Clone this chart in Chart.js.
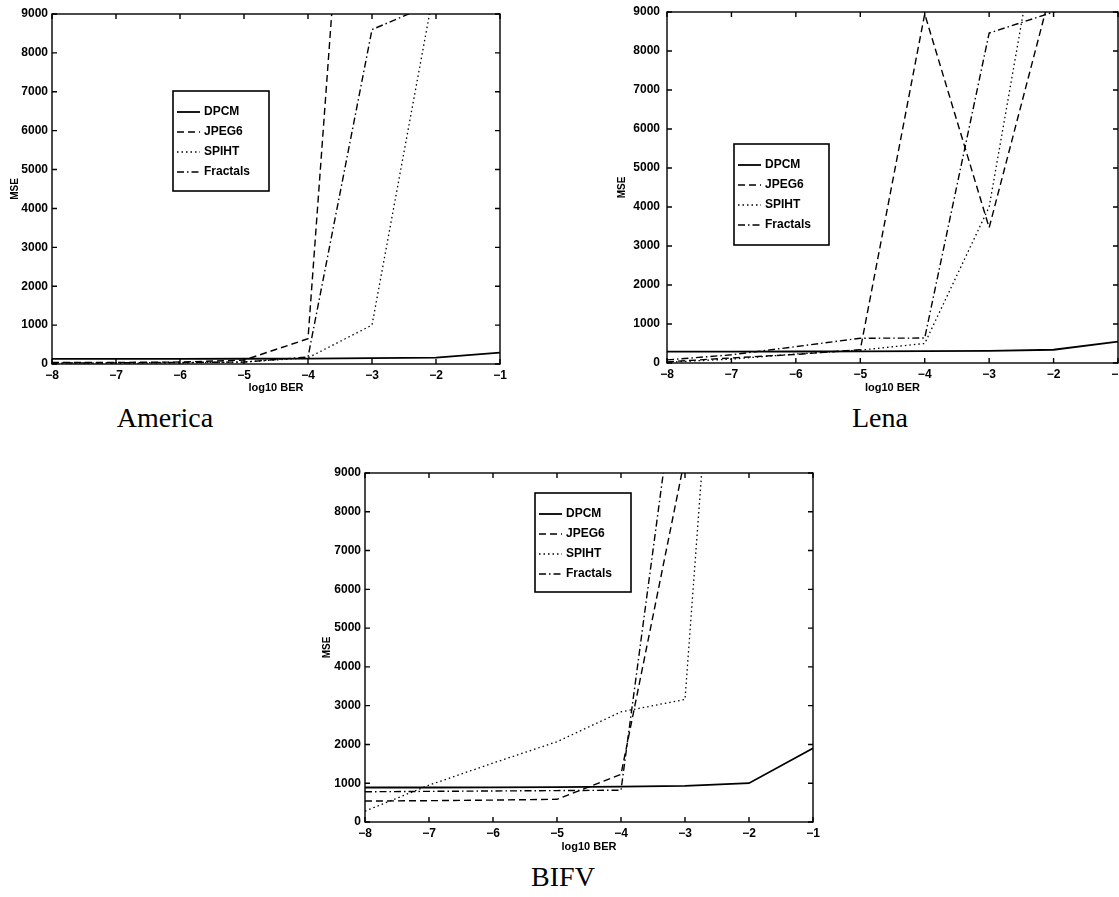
<!DOCTYPE html>
<html lang="en">
<head>
    <meta charset="UTF-8">
    <title>MSE vs log10 BER</title>
    <script src="https://cdn.jsdelivr.net/npm/chart.js"></script>
    <style>
        body {
            margin: 0;
            background: #fff;
            width: 1119px;
            height: 897px;
            position: relative;
            overflow: hidden;
        }
        canvas {
            position: absolute;
        }
        .caption {
            position: absolute;
            font-family: "Liberation Serif", "DejaVu Serif", serif;
            font-size: 28px;
            line-height: 28px;
            color: #000;
            transform: translateX(-50%);
            white-space: nowrap;
        }
    </style>
</head>
<body>
    <canvas id="america" width="515" height="395" style="left:0px;top:0px"></canvas>
    <canvas id="lena" width="504" height="395" style="left:615px;top:0px"></canvas>
    <canvas id="bifv" width="515" height="395" style="left:313px;top:459px"></canvas>

    <div class="caption" style="left:165px;top:404px">America</div>
    <div class="caption" style="left:880px;top:404px">Lena</div>
    <div class="caption" style="left:563px;top:863px">BIFV</div>

    <script>
        // x values: log10 of the bit error rate
        const ber = [-8, -7, -6, -5, -4, -3, -2, -1];
        const seriesNames = ["DPCM", "JPEG6", "SPIHT", "Fractals"];
        const yMax = 9000;

        // America (values above 9000 run off the top of the plot)
        const americaDPCM     = [130, 130, 130, 135, 140, 150, 165, 290];
        const americaJPEG6    = [40, 40, 50, 100, 650, 23200, 30000, 30000];
        const americaSPIHT    = [20, 20, 30, 50, 160, 1000, 9900, 20000];
        const americaFractals = [30, 30, 40, 50, 180, 8600, 9300, 10000];

        // Lena
        const lenaDPCM     = [290, 290, 295, 300, 305, 310, 340, 550];
        const lenaJPEG6    = [30, 130, 220, 340, 8950, 3470, 9800, 15000];
        const lenaSPIHT    = [20, 100, 230, 330, 500, 4000, 13400, 20000];
        const lenaFractals = [80, 210, 420, 635, 640, 8460, 9000, 9500];

        // BIFV
        const bifvDPCM     = [890, 890, 895, 900, 910, 930, 1000, 1900];
        const bifvJPEG6    = [540, 550, 565, 585, 1230, 9400, 20000, 20000];
        const bifvSPIHT    = [280, 950, 1520, 2070, 2840, 3160, 25600, 30000];
        const bifvFractals = [780, 790, 800, 810, 820, 13200, 20000, 20000];

        const lineStyles = [
            { borderWidth: 1.8, borderDash: [] },
            { borderWidth: 1.4, borderDash: [7, 4] },
            { borderWidth: 1.3, borderDash: [1.5, 3] },
            { borderWidth: 1.4, borderDash: [7, 3, 1.5, 3] }
        ];

        const sansFont = "'Liberation Sans', Arial, sans-serif";

        // frame, inward ticks and the boxed legend (MATLAB look)
        const framePlugin = {
            id: "frame",
            afterDatasetsDraw(chart, args, opts) {
                const { ctx, chartArea: a, scales } = chart;
                const x = scales.x, y = scales.y;
                ctx.save();
                ctx.strokeStyle = "#000";
                ctx.lineWidth = 1.4;
                ctx.setLineDash([]);
                ctx.strokeRect(a.left, a.top, a.width, a.height);
                ctx.beginPath();
                x.ticks.forEach(t => {
                    const px = x.getPixelForValue(t.value);
                    ctx.moveTo(px, a.bottom); ctx.lineTo(px, a.bottom - 5);
                    ctx.moveTo(px, a.top); ctx.lineTo(px, a.top + 5);
                });
                y.ticks.forEach(t => {
                    const py = y.getPixelForValue(t.value);
                    ctx.moveTo(a.left, py); ctx.lineTo(a.left + 5, py);
                    ctx.moveTo(a.right, py); ctx.lineTo(a.right - 5, py);
                });
                ctx.stroke();

                // legend
                const lg = opts.legend;
                ctx.fillStyle = "#fff";
                ctx.fillRect(lg.left, lg.top, lg.width, lg.height);
                ctx.lineWidth = 1.6;
                ctx.strokeRect(lg.left, lg.top, lg.width, lg.height);
                ctx.font = "bold 12px " + sansFont;
                ctx.textBaseline = "middle";
                ctx.textAlign = "left";
                chart.data.datasets.forEach((ds, i) => {
                    const ly = lg.top + 21 + i * 20;
                    ctx.beginPath();
                    ctx.lineWidth = ds.borderWidth;
                    ctx.setLineDash(ds.borderDash);
                    ctx.moveTo(lg.left + 4, ly);
                    ctx.lineTo(lg.left + 27, ly);
                    ctx.stroke();
                    ctx.setLineDash([]);
                    ctx.fillStyle = "#000";
                    ctx.fillText(ds.label, lg.left + 31, ly);
                });
                ctx.restore();
            }
        };

        function makeChart(id, values, pad, yTitlePad, yTickPad, legendBox) {
            const datasets = values.map((vals, i) => ({
                label: seriesNames[i],
                data: ber.map((b, j) => ({ x: b, y: vals[j] })),
                borderColor: "#000",
                backgroundColor: "#000",
                borderWidth: lineStyles[i].borderWidth,
                borderDash: lineStyles[i].borderDash,
                pointRadius: 0,
                tension: 0,
                fill: false
            }));

            return new Chart(document.getElementById(id), {
                type: "line",
                data: { datasets: datasets },
                options: {
                    responsive: false,
                    animation: false,
                    layout: { padding: pad },
                    plugins: {
                        legend: { display: false },
                        tooltip: { enabled: false },
                        frame: { legend: legendBox }
                    },
                    scales: {
                        x: {
                            type: "linear",
                            min: -8,
                            max: -1,
                            grid: { display: false, drawTicks: false },
                            border: { display: false },
                            ticks: {
                                stepSize: 1,
                                padding: 4,
                                color: "#000",
                                font: { family: sansFont, size: 12, weight: "bold" },
                                callback: v => (v < 0 ? "\u2212" + (-v) : String(v))
                            },
                            title: {
                                display: true,
                                text: "log10 BER",
                                color: "#000",
                                padding: 0,
                                font: { family: sansFont, size: 11, weight: "bold" }
                            },
                            afterFit: s => {
                                s.height = pad.xHeight;
                                s.paddingLeft = 0;
                                s.paddingRight = 0;
                            }
                        },
                        y: {
                            min: 0,
                            max: yMax,
                            grid: { display: false, drawTicks: false },
                            border: { display: false },
                            ticks: {
                                stepSize: 1000,
                                padding: yTickPad,
                                color: "#000",
                                font: { family: sansFont, size: 12, weight: "bold" },
                                callback: v => String(v)
                            },
                            title: {
                                display: true,
                                text: "MSE",
                                color: "#000",
                                padding: { top: yTitlePad, bottom: 0 },
                                font: { family: sansFont, size: 10, weight: "bold" }
                            },
                            afterFit: s => {
                                s.width = 52;
                                s.paddingTop = 0;
                                s.paddingBottom = 0;
                            }
                        }
                    }
                },
                plugins: [framePlugin]
            });
        }

        makeChart("america",
            [americaDPCM, americaJPEG6, americaSPIHT, americaFractals],
            { left: 0, top: 14, right: 15, bottom: 0, xHeight: 31 }, 9, 4,
            { left: 173, top: 91, width: 96, height: 100 });

        makeChart("lena",
            [lenaDPCM, lenaJPEG6, lenaSPIHT, lenaFractals],
            { left: 0, top: 12, right: 1, bottom: 0, xHeight: 32 }, 1, 7,
            { left: 119, top: 144, width: 95, height: 101 });

        makeChart("bifv",
            [bifvDPCM, bifvJPEG6, bifvSPIHT, bifvFractals],
            { left: 0, top: 14, right: 15, bottom: 0, xHeight: 32 }, 8, 4,
            { left: 222, top: 34, width: 96, height: 99 });
    </script>
</body>
</html>
